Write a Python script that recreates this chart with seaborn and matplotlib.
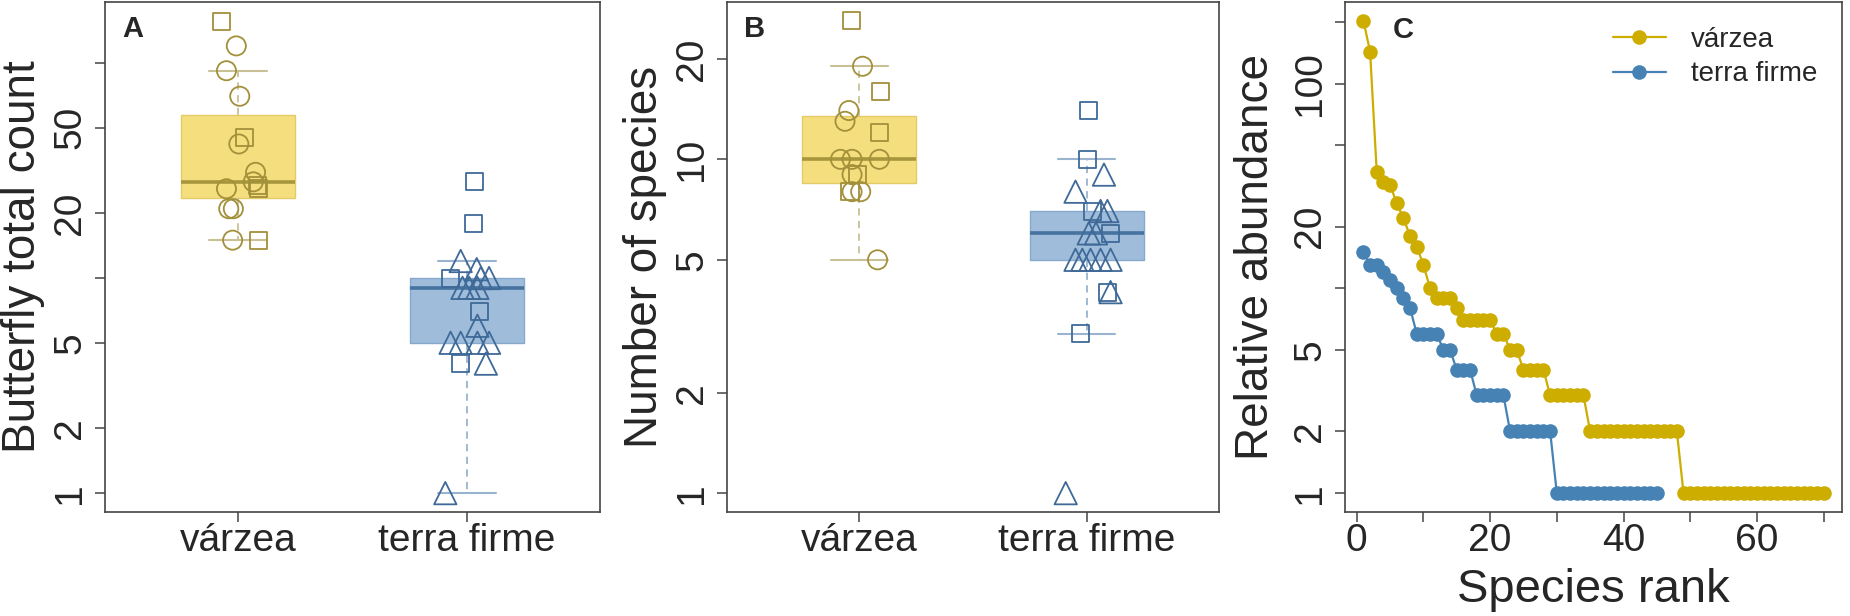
import matplotlib
matplotlib.use('Agg')
import matplotlib.pyplot as plt
from matplotlib.ticker import NullLocator
import seaborn as sns
import pandas as pd
import numpy as np

habitats = ['várzea', 'terra firme']

# A: butterfly total count per sample (shape = sampling group, jit = horizontal jitter)
a_var_count = [156, 120, 92, 70, 45, 42, 31, 28, 27, 26, 26, 21, 21, 15, 15]
a_var_shape = ['s', 'o', 'o', 'o', 's', 'o', 'o', 'o', 's', 's', 'o', 'o', 'o', 'o', 's']
a_var_jit = [-0.072, -0.007, -0.05, 0.008, 0.03, 0.004, 0.077, 0.067, 0.085, 0.091, -0.05, -0.04, -0.02, -0.023, 0.088]

a_tf_count = [28, 18, 12, 11, 10, 10, 10, 9, 9, 9, 7, 6, 5, 5, 5, 5, 4, 4, 1]
a_tf_shape = ['s', 's', '^', '^', 's', '^', '^', '^', '^', '^', 's', '^', '^', '^', '^', '^', 's', '^', '^']
a_tf_jit = [0.034, 0.026, -0.028, 0.042, -0.072, 0.096, 0.06, -0.02, 0.009, 0.045, 0.053, 0.045,
            -0.072, -0.028, 0.045, 0.096, -0.028, 0.082, -0.095]

# B: number of species per sample
b_var_count = [26, 19, 16, 14, 13, 12, 10, 10, 10, 9, 9, 8, 8, 8, 5]
b_var_shape = ['s', 'o', 's', 'o', 'o', 's', 'o', 'o', 'o', 'o', 's', 's', 'o', 'o', 'o']
b_var_jit = [-0.034, 0.015, 0.093, -0.045, -0.062, 0.089, -0.082, -0.031, 0.089, -0.031, -0.005,
             -0.04, -0.031, 0.007, 0.081]

b_tf_count = [14, 10, 9, 8, 7, 7, 7, 6, 6, 6, 5, 5, 5, 5, 5, 4, 4, 3, 1]
b_tf_shape = ['s', 's', '^', '^', 's', '^', '^', '^', '^', 's', '^', '^', '^', '^', '^', '^', 's', 's', '^']
b_tf_jit = [0.008, 0.002, 0.075, -0.05, 0.024, 0.09, 0.06, 0.008, 0.04, 0.104, -0.05, 0.016, 0.06,
            0.104, -0.02, 0.104, 0.09, -0.028, -0.093]

# C: rank abundance
c_var_abund = [203, 143, 37, 33, 32, 26, 22, 18, 16, 13, 10, 9, 9, 9, 8, 7, 7, 7, 7, 7,
               6, 6, 5, 5, 4, 4, 4, 4, 3, 3, 3, 3, 3, 3, 2, 2, 2, 2, 2, 2, 2, 2, 2, 2,
               2, 2, 2, 2, 1, 1, 1, 1, 1, 1, 1, 1, 1, 1, 1, 1, 1, 1, 1, 1, 1, 1, 1, 1, 1, 1]
c_tf_abund = [15, 13, 13, 12, 11, 10, 9, 8, 6, 6, 6, 6, 5, 5, 4, 4, 4, 3, 3, 3, 3, 3,
              2, 2, 2, 2, 2, 2, 2, 1, 1, 1, 1, 1, 1, 1, 1, 1, 1, 1, 1, 1, 1, 1, 1]

# colours
box_fill = ['#F5DE7E', '#9FBDDB']
box_edge = ['#E4CB66', '#86A9CC']
med_col = ['#A8963C', '#46739F']
whisk_col = ['#C9C096', '#9AB3CF']
pt_col = {'várzea': '#A3903A', 'terra firme': '#3F6A98'}
line_col = {'várzea': '#CDAD00', 'terra firme': '#4682B4'}

sns.set_style('white')
plt.rcParams['font.family'] = ['Liberation Sans', 'DejaVu Sans']

fig = plt.figure(figsize=(18.5, 6.16), dpi=100)
axA = fig.add_axes([105 / 1850, 1 - 512 / 616, 495 / 1850, 510 / 616])
axB = fig.add_axes([727 / 1850, 1 - 512 / 616, 492 / 1850, 510 / 616])
axC = fig.add_axes([1345 / 1850, 1 - 512 / 616, 497 / 1850, 510 / 616])


def make_df(var_c, var_s, var_j, tf_c, tf_s, tf_j):
    d1 = pd.DataFrame({'value': var_c, 'shape': var_s, 'jit': var_j, 'habitat': habitats[0]})
    d2 = pd.DataFrame({'value': tf_c, 'shape': tf_s, 'jit': tf_j, 'habitat': habitats[1]})
    d = pd.concat([d1, d2], ignore_index=True)
    d['pos'] = d['habitat'].map({habitats[0]: 1, habitats[1]: 2})
    d['xj'] = d['pos'] + d['jit']
    return d


def style_axis(ax):
    for sp in ax.spines.values():
        sp.set_visible(True)
        sp.set_color('#444444')
        sp.set_linewidth(1.2)
    ax.tick_params(axis='both', which='major', length=7.2, width=1.1, color='#444444',
                   labelsize=28, direction='out', left=True, bottom=True)
    ax.tick_params(axis='x', pad=1)
    ax.tick_params(axis='y', pad=5)
    ax.yaxis.set_minor_locator(NullLocator())
    ax.xaxis.set_minor_locator(NullLocator())


def box_panel(ax, df, ylab, yticks, ylabels, ylim, letter):
    for i, hab in enumerate(habitats):
        sub = df[df['habitat'] == hab]
        sns.boxplot(data=sub, x='pos', y='value', native_scale=True, width=0.5,
                    color=box_fill[i], linecolor=box_edge[i], saturation=1,
                    showfliers=False, linewidth=1, ax=ax,
                    medianprops=dict(color=med_col[i], linewidth=2.6),
                    whiskerprops=dict(color=whisk_col[i], linestyle=(0, (4, 3)), linewidth=1.3),
                    capprops=dict(color=whisk_col[i], linewidth=1.5))
    sns.scatterplot(data=df, x='xj', y='value', hue='habitat', palette=pt_col,
                    style='shape', markers={'o': 'o', 's': 's', '^': '^'},
                    size='shape', sizes={'o': 190, 's': 150, '^': 260},
                    linewidth=1.3, legend=False, ax=ax, zorder=5)
    coll = ax.collections[-1]
    coll.set_edgecolors(coll.get_facecolors())
    coll.set_facecolors('none')
    ax.set_yscale('log')
    ax.set_ylim(*ylim)
    ax.set_xlim(0.42, 2.58)
    ax.set_xticks([1, 2])
    ax.set_xticklabels(habitats)
    ax.set_yticks(yticks)
    ax.set_yticklabels(ylabels, rotation=90, va='center')
    style_axis(ax)
    ax.set_xlabel('')
    ax.set_ylabel(ylab, fontsize=33)
    ax.yaxis.set_label_coords(-0.166, 0.5)
    ax.yaxis.label.set_va('center')
    ax.text(0.057, 0.947, letter, transform=ax.transAxes, fontsize=21, fontweight='bold',
            ha='center', va='center')


dfA = make_df(a_var_count, a_var_shape, a_var_jit, a_tf_count, a_tf_shape, a_tf_jit)
dfB = make_df(b_var_count, b_var_shape, b_var_jit, b_tf_count, b_tf_shape, b_tf_jit)

box_panel(axA, dfA, 'Butterfly total count', [1, 2, 5, 10, 20, 50, 100],
          ['1', '2', '5', '', '20', '50', ''], (0.817, 192), 'A')
box_panel(axB, dfB, 'Number of species', [1, 2, 5, 10, 20],
          ['1', '2', '5', '10', '20'], (0.878, 29.6), 'B')

# C: rank abundance curves
dfC = pd.concat([
    pd.DataFrame({'rank': np.arange(1, len(c_var_abund) + 1), 'abund': c_var_abund, 'habitat': habitats[0]}),
    pd.DataFrame({'rank': np.arange(1, len(c_tf_abund) + 1), 'abund': c_tf_abund, 'habitat': habitats[1]}),
], ignore_index=True)
sns.lineplot(data=dfC, x='rank', y='abund', hue='habitat', palette=line_col, marker='o',
             markersize=10.5, markeredgewidth=0, linewidth=1.6, ax=axC)
axC.set_yscale('log')
axC.set_ylim(0.809, 250)
axC.set_xlim(-1.76, 72.76)
axC.set_yticks([1, 2, 5, 10, 20, 50, 100, 200])
axC.set_yticklabels(['1', '2', '5', '', '20', '', '100', ''], rotation=90, va='center')
axC.set_xticks([0, 10, 20, 30, 40, 50, 60, 70])
axC.set_xticklabels(['0', '', '20', '', '40', '', '60', ''])
style_axis(axC)
axC.set_xlabel('Species rank', fontsize=34)
axC.xaxis.set_label_coords(0.5, -0.153)
axC.xaxis.label.set_va('center')
axC.set_ylabel('Relative abundance', fontsize=33)
axC.yaxis.set_label_coords(-0.18, 0.5)
axC.yaxis.label.set_va('center')
axC.text(0.117, 0.945, 'C', transform=axC.transAxes, fontsize=21, fontweight='bold',
         ha='center', va='center')
axC.legend(loc='upper right', frameon=False, fontsize=20, handlelength=1.9,
           handletextpad=0.9, borderaxespad=0.5, labelspacing=0.3)

fig.savefig('out.png', dpi=100)
